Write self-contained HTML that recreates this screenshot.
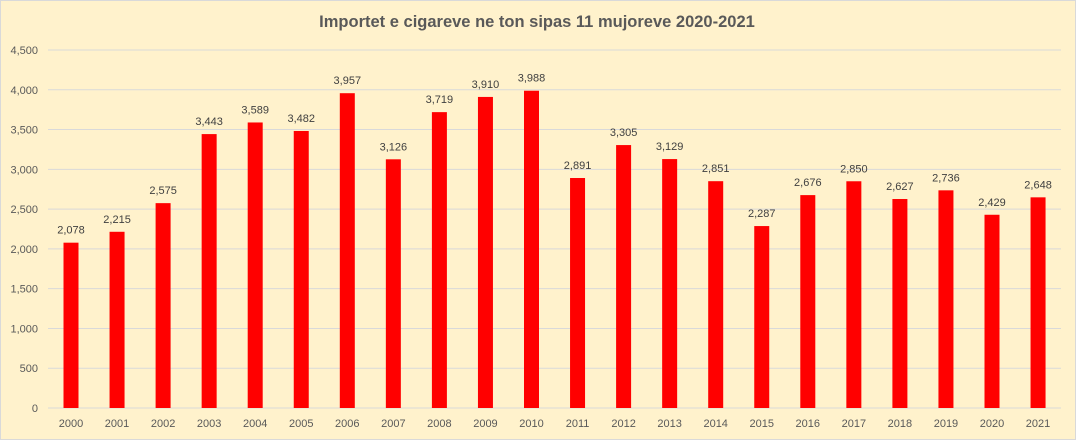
<!DOCTYPE html>
<html><head><meta charset="utf-8"><style>
html,body{margin:0;padding:0;background:#fff}
svg{display:block}
text{font-family:"Liberation Sans",sans-serif}
</style></head><body>
<svg width="1077" height="441" viewBox="0 0 1077 441" xmlns="http://www.w3.org/2000/svg">
<rect x="0.5" y="0.5" width="1075" height="439" fill="#FFF2CC" stroke="#D9D9D9"/>
<text x="537" y="27" text-anchor="middle" font-size="16.5" font-weight="bold" fill="#595959">Importet e cigareve ne ton sipas 11 mujoreve 2020-2021</text>
<g id="g"></g>
</svg>
<script>
const vals=[2078,2215,2575,3443,3589,3482,3957,3126,3719,3910,3988,2891,3305,3129,2851,2287,2676,2850,2627,2736,2429,2648];
const ns="http://www.w3.org/2000/svg";const g=document.getElementById('g');
function el(t,a,txt){const e=document.createElementNS(ns,t);for(const k in a)e.setAttribute(k,a[k]);if(txt!=null)e.textContent=txt;g.appendChild(e);return e;}
const y0=408,k=358/4500;
for(let v=0;v<=4500;v+=500){const y=y0-v*k;el('line',{x1:48,x2:1061,y1:y,y2:y,stroke:'#D9D9D9','stroke-width':1});
el('text',{x:38,y:y+4,'text-anchor':'end','font-size':11,fill:'#595959'},v.toLocaleString('en-US'));}
vals.forEach((v,i)=>{const cx=71+46.05*i;const h=v*k;
el('rect',{x:cx-7.5,y:y0-h,width:15,height:h,fill:'#FF0000'});
el('text',{x:cx,y:y0-h-9,'text-anchor':'middle','font-size':11,fill:'#404040'},v.toLocaleString('en-US'));
el('text',{x:cx,y:427,'text-anchor':'middle','font-size':11,fill:'#595959'},String(2000+i));});
</script>
</body></html>
